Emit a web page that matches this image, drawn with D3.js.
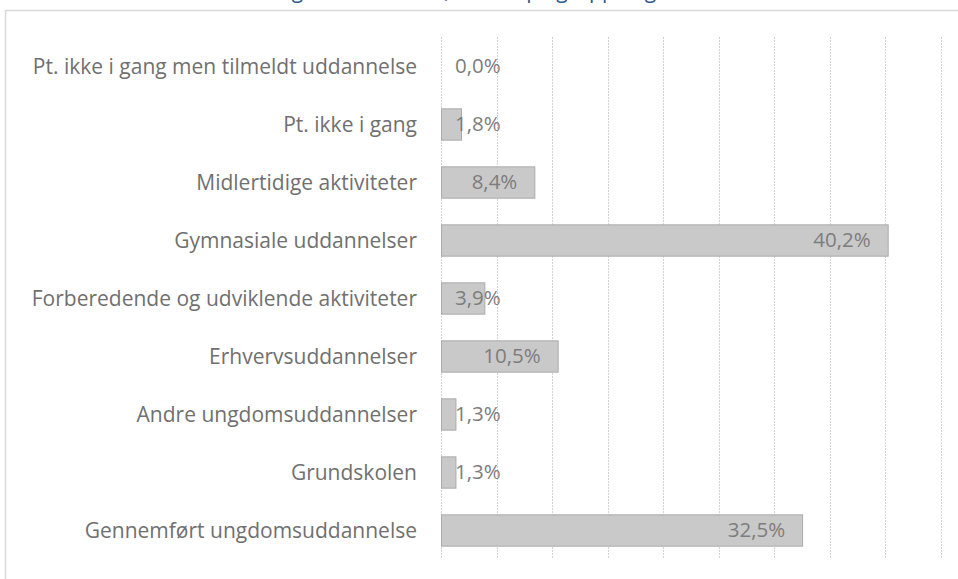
<!DOCTYPE html>
<html>
<head>
<meta charset="utf-8">
<script src="https://cdn.jsdelivr.net/npm/d3@7"></script>
<style>
	body { margin: 0; background: #fff; }
	svg { display: block; }
</style>
</head>
<body>
<div id="canvas"></div>
<script>
// Data
const categories = [
	'Pt. ikke i gang men tilmeldt uddannelse',
	'Pt. ikke i gang',
	'Midlertidige aktiviteter',
	'Gymnasiale uddannelser',
	'Forberedende og udviklende aktiviteter',
	'Erhvervsuddannelser',
	'Andre ungdomsuddannelser',
	'Grundskolen',
	'Gennemført ungdomsuddannelse',
]
const values = [0.0, 1.8, 8.4, 40.2, 3.9, 10.5, 1.3, 1.3, 32.5]
const xTicks = [0, 5, 10, 15, 20, 25, 30, 35, 40, 45]
const titleText = 'Uddannelsesstatus for unge i kommunen, fordelt på gruppe og aktivitet'

const colors = {
	title: '#2e5a8c',
	text: '#707070',
	value: '#7d7d7d',
	grid: '#d2d2d2',
	border: '#d9d9d9',
	bar: '#c9c9c9',
	barStroke: '#ababab',
}
const width = 958, height = 579
const font = '"Open Sans", sans-serif'

const svg = d3.select('#canvas').append('svg')
	.attr('width', width).attr('height', height)
	.style('background-color', '#fff')

// cut-off title (only descenders show)
svg.append('text')
	.attr('x', 40).attr('y', -2)
	.attr('font-family', font).attr('font-size', 21)
	.attr('fill', colors.title)
	.text(titleText)

// chart area border
svg.append('path')
	.attr('d', `M5.5,${height} V10.5 H${width}`)
	.attr('fill', 'none')
	.attr('stroke', colors.border)
	.attr('stroke-width', 1.5)

// Scales
const x = d3.scaleLinear().domain([0, 45]).range([441, 941])
const y = d3.scaleBand().domain(categories).range([37, 559]).paddingInner(0.46).paddingOuter(0.23)

// gridlines
svg.append('g').selectAll('line')
	.data(xTicks).enter()
	.append('line')
	.attr('x1', d => Math.round(x(d)) + 0.5).attr('x2', d => Math.round(x(d)) + 0.5)
	.attr('y1', 37).attr('y2', 559)
	.attr('stroke', colors.grid)
	.attr('stroke-dasharray', '2,1')

// bars
svg.append('g').selectAll('rect')
	.data(values).enter()
	.append('rect')
	.attr('x', x(0) + 0.5)
	.attr('y', (d, i) => y(categories[i]) + 0.5)
	.attr('width', d => Math.max(0, x(d) - x(0)))
	.attr('height', y.bandwidth())
	.attr('fill', colors.bar)
	.attr('stroke', d => d > 0 ? colors.barStroke : 'none')

// category labels
const yAxis = d3.axisLeft(y).tickSize(0).tickPadding(0)
svg.append('g')
	.attr('transform', 'translate(417,0)')
	.call(yAxis)
	.call(g => g.select('.domain').remove())
	.selectAll('text')
	.attr('font-family', font).attr('font-size', 21)
	.attr('fill', colors.text)
	.attr('dy', '0.36em')

// value labels: inside end, pushed right when the bar is too short
svg.append('g').selectAll('text')
	.data(values).enter()
	.append('text')
	.attr('font-family', font).attr('font-size', 20.5)
	.attr('fill', colors.value)
	.attr('dy', '0.36em')
	.attr('y', (d, i) => y(categories[i]) + y.bandwidth() / 2)
	.text(d => d.toFixed(1).replace('.', ',') + '%')
	.each(function (d) {
		const w = this.getComputedTextLength()
		const end = Math.max(x(d) - 17, x(0) + 14 + w)
		d3.select(this).attr('x', end).attr('text-anchor', 'end')
	})
</script>
</body>
</html>
